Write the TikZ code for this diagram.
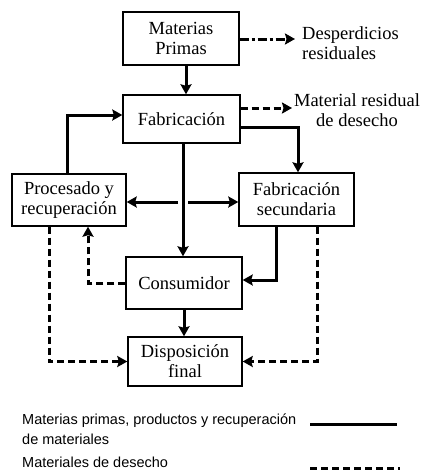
\documentclass[tikz,border=0pt]{standalone}
\usepackage{fontspec}
\setmainfont{Liberation Serif}
\newfontfamily\legfont{Liberation Sans}
\usetikzlibrary{arrows.meta,positioning,calc}
\definecolor{flInk}{HTML}{000000}
\tikzset{
  blk/.style={draw=flInk, line width=1.4pt, fill=white, inner sep=1pt, align=center, font=\fontsize{18.5}{20}\selectfont},
  lbl/.style={inner sep=0pt, align=left, font=\fontsize{18.5}{20}\selectfont},
  arr/.style={-{Stealth[length=10pt,width=11pt,inset=1.5pt]}, line width=3pt, draw=flInk},
  warr/.style={arr, dash pattern=on 7pt off 4pt},
  darr/.style={arr, dash pattern=on 9pt off 3pt on 3pt off 3pt},
  leg/.style={inner sep=0pt, anchor=base west, font=\legfont\fontsize{14.5}{16}\selectfont},
}
\begin{document}
\begin{tikzpicture}[x=1pt,y=-1pt]
  \useasboundingbox (0,0) rectangle (422,471);
  % main blocks
  \node[blk, minimum width=116pt, minimum height=53pt] (mp) at (181,38.5) {Materias\\Primas};
  \node[blk, minimum width=117pt, minimum height=48pt] (fab) at (181.5,119) {Fabricación};
  \node[blk, minimum width=114pt, minimum height=52pt] (proc) at (69,200) {Procesado y\\recuperación};
  \node[blk, minimum width=115pt, minimum height=53pt] (fsec) at (296.5,199.5) {Fabricación\\secundaria};
  \node[blk, minimum width=116pt, minimum height=52pt] (cons) at (184,283) {Consumidor};
  \node[blk, minimum width=114pt, minimum height=49pt] (disp) at (185,361.5) {Disposición\\final};
  % side labels
  \node[lbl, anchor=west] (desp) at (302,43) {Desperdicios\\residuales};
  \node[lbl, align=center] (mres) at (357,110) {Material residual\\de desecho};
  \coordinate (desp-in) at (295,39);
  \coordinate (mres-in) at (292,108);
  \coordinate (jl) at (178,202);
  \coordinate (jr) at (188,202);
  % material flows
  \draw[arr] ([xshift=5pt]mp.south) -- ([xshift=5pt]mp.south |- fab.north);
  \draw[arr] ([xshift=1.5pt]fab.south) -- ([xshift=1.5pt]fab.south |- cons.north);
  \draw[arr] ([yshift=-8pt]fab.east) -| ([xshift=1.5pt]fsec.north);
  \draw[arr] ([xshift=-2pt]proc.north) |- ([yshift=4pt]fab.west);
  \draw[arr] (jl) -- (proc.east |- jl);
  \draw[arr] (jr) -- (fsec.west |- jr);
  \draw[arr] ([xshift=-20.5pt]fsec.south) |- ([yshift=3pt]cons.east);
  \draw[arr] (cons.south) -- (cons.south |- disp.north);
  % waste flows
  \draw[darr] (mp.east |- desp-in) -- (desp-in);
  \draw[warr] (fab.east |- mres-in) -- (mres-in);
  \draw[warr] (cons.west) -| ([xshift=19pt]proc.south);
  \draw[warr] ([xshift=-20pt]proc.south) |- (disp.west);
  \draw[warr] ([xshift=20.5pt]fsec.south) |- (disp.east);
  % legend
  \node[leg] (l1) at (22,424) {Materias primas, productos y recuperación};
  \node[leg] (l2) at (22,444) {de materiales};
  \node[leg] (l3) at (22,467) {Materiales de desecho};
  \draw[line width=3pt] (310,424) -- (397,424);
  \draw[line width=3pt, dash pattern=on 7pt off 4pt] (310,468) -- (400,468);
\end{tikzpicture}
\end{document}
